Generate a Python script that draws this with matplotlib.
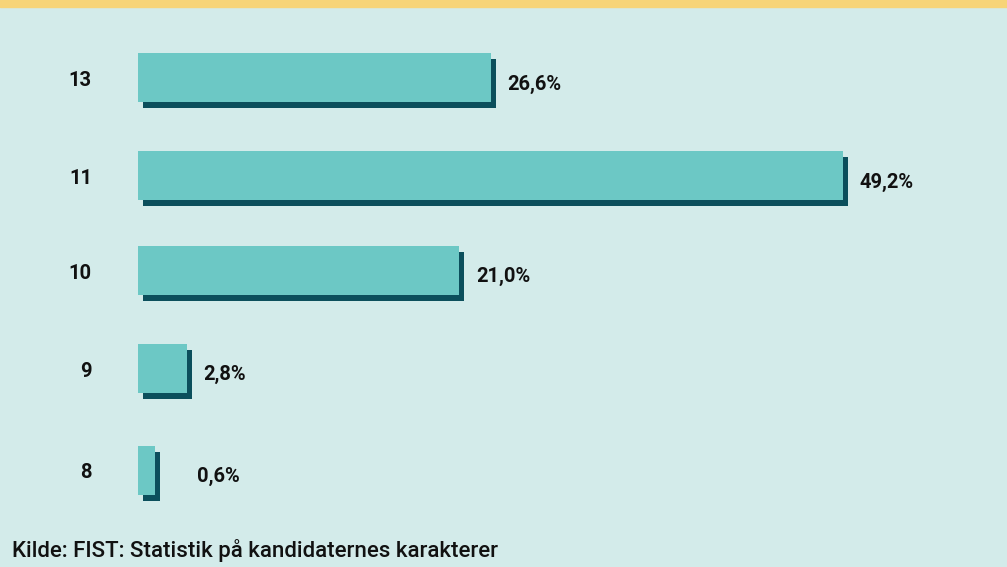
import matplotlib
matplotlib.use("Agg")
import matplotlib.pyplot as plt
import matplotlib.patches as mpatches
from matplotlib.transforms import offset_copy

grades = ["8", "9", "10", "11", "13"]
shares = [0.6, 2.8, 21.0, 49.2, 26.6]
# bar lengths as drawn in the picture (same units as the shares)
bar_lengths = [1.2, 3.4, 22.4, 49.2, 24.6]
labels = ["0,6%", "2,8%", "21,0%", "49,2%", "26,6%"]
source = "Kilde: FIST: Statistik på kandidaternes karakterer"

bg = "#d3ebea"
bar_color = "#6cc8c5"
shadow_color = "#0b4f5c"
strip_color = "#f7d478"

plt.rcParams["font.family"] = ["Roboto", "DejaVu Sans"]

W, H = 1007, 567
fig = plt.figure(figsize=(W / 100, H / 100), dpi=100, facecolor=bg)

# top strip
fig.patches.append(mpatches.Rectangle((0, 1 - 7 / H), 1, 7 / H,
                                      transform=fig.transFigure,
                                      color=strip_color, zorder=0))

left_px = 138
ax = fig.add_axes([left_px / W, 0, 1 - left_px / W, 1 - 7 / H])
ax.set_facecolor(bg)
px_per_unit = 705 / 49.2
ax.set_xlim(0, (W - left_px) / px_per_unit)
step = 98
ax.set_ylim(-97 / step, (H - 7 - 97) / step)
ax.axis("off")

ypos = [0, 1.04, 2.04, 3.0, 4.0]
shadow_tr = offset_copy(ax.transData, fig=fig, x=5, y=-6, units="dots")
ax.barh(ypos, bar_lengths, height=0.5, color=shadow_color, transform=shadow_tr, zorder=1)
ax.barh(ypos, bar_lengths, height=0.5, color=bar_color, zorder=2)

for y, g, v, lab in zip(ypos, grades, bar_lengths, labels):
    ax.annotate(g, xy=(0, y), xytext=(-46, -3), textcoords="offset pixels",
                ha="right", va="center", fontsize=14.5, fontweight="bold", color="#111111")
    x_px = max(v * px_per_unit + 5 + 12, 59)
    ax.annotate(lab, xy=(0, y), xytext=(x_px, -6), textcoords="offset pixels",
                ha="left", va="center", fontsize=14.5, fontweight="bold", color="#111111")

fig.text(12 / W, 1 - 550 / H, source, ha="left", va="center", fontsize=16,
         fontweight="medium", color="#111111")

fig.savefig("out.png", dpi=100, facecolor=bg)
